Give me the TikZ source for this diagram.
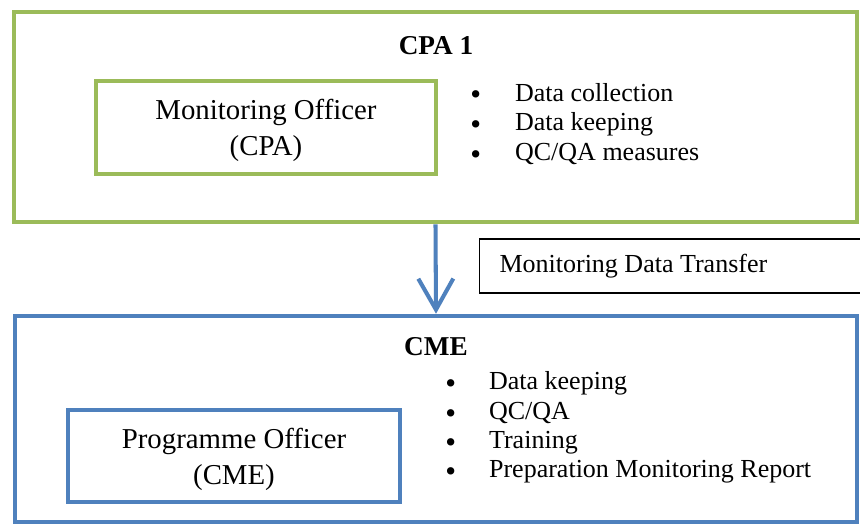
\documentclass[tikz,border=0pt]{standalone}
\usepackage{fontspec}
\setmainfont{Liberation Serif}
\usetikzlibrary{arrows.meta, positioning}
\definecolor{CpaGreen}{RGB}{155, 187, 89}
\definecolor{CmeBlue}{RGB}{79, 129, 189}
\newcommand{\taskdot}{\smash{\raisebox{-2.2pt}{\fontsize{17.5}{16}\selectfont\textbullet}}}

\begin{document}
\begin{tikzpicture}[x=0.02cm, y=-0.02cm,
    every node/.style={align=center, inner sep=0pt},
    unit/.style={draw, line width=2.6pt},
    officer/.style={draw, line width=2.7pt, text depth=0pt, font=\fontsize{16.4}{20.4}\selectfont},
    heading/.style={font=\fontsize{15.5}{18}\selectfont\bfseries},
    tasks/.style={anchor=west, font=\fontsize{14.8}{17}\selectfont},
    transfer/.style={draw=black, line width=0.6pt, anchor=west, inner xsep=0.4cm,
                     text width=6.92cm, minimum height=1.08cm, align=flush left,
                     font=\fontsize{14.8}{17}\selectfont}
]
\clip (0,0) rectangle (860,525);
\fill[white] (0,0) rectangle (860,525);

\node[unit, draw=CpaGreen, minimum width=16.86cm, minimum height=4.2cm] (cpa) at (435.5,117) {};
\node[unit, draw=CmeBlue, minimum width=16.84cm, minimum height=4.12cm] (cme) at (436,419) {};

\node[heading] (cpaTitle) at (436,46) {CPA 1};
\node[officer, draw=CpaGreen, minimum width=6.8cm, minimum height=1.86cm] (cpaOfficer) at (266,127.5)
    {Monitoring Officer\\(CPA)};
\node[tasks] (cpaTasks) at (470,125) {%
    \begin{tabular}{@{}l@{\hspace{0.68cm}}l@{}}
    \taskdot & Data collection\\
    \taskdot & Data keeping\\
    \taskdot & QC/QA measures
    \end{tabular}};

\node[heading] (cmeTitle) at (436,347) {CME};
\node[officer, draw=CmeBlue, minimum width=6.64cm, minimum height=1.84cm] (cmeOfficer) at (234,456)
    {Programme Officer\\(CME)};
\node[tasks, font=\fontsize{14.8}{16.7}\selectfont] (cmeTasks) at (445,428) {%
    \begin{tabular}{@{}l@{\hspace{0.66cm}}l@{}}
    \taskdot & Data keeping\\
    \taskdot & QC/QA\\
    \taskdot & Training\\
    \taskdot & Preparation Monitoring Report
    \end{tabular}};

\node[transfer] (dataTransfer) at (479,266) {Monitoring Data Transfer};

\draw[-{Straight Barb[length=0.62cm, width=0.7cm]}, CmeBlue, line width=2.3pt] (cpa.south) -- (cme.north);
\end{tikzpicture}
\end{document}
